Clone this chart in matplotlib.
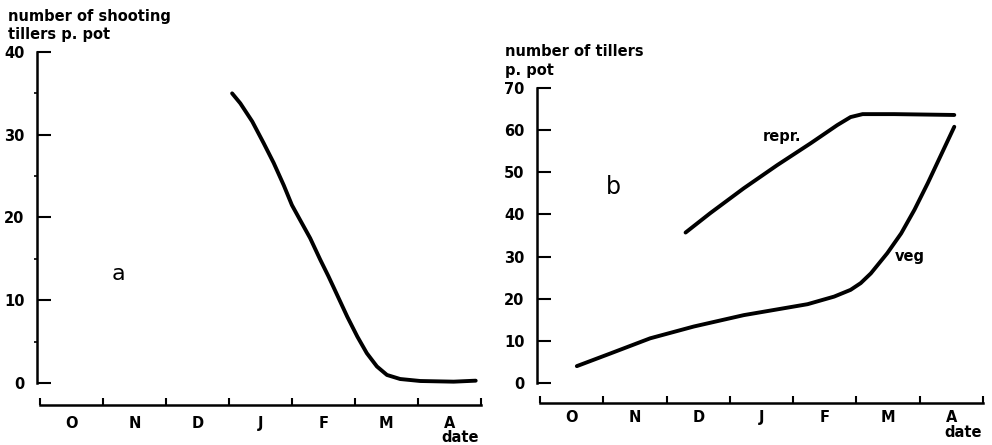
import matplotlib.pyplot as plt
from matplotlib.ticker import FixedLocator, NullFormatter

plt.rcParams['font.family'] = ['DejaVu Sans']

# months, October to April; x is months after 1 October
months = ['O', 'N', 'D', 'J', 'F', 'M', 'A']

# panel a: shooting tillers per pot
shoot_x = [3.05, 3.18, 3.37, 3.55, 3.71, 3.87, 4.0, 4.13, 4.29, 4.45, 4.58, 4.66,
           4.88, 5.04, 5.19, 5.35, 5.51, 5.72, 6.04, 6.57, 6.92]
shoot_y = [35.0, 33.8, 31.6, 29.0, 26.6, 23.9, 21.5, 19.7, 17.5, 14.9, 12.9, 11.6,
           8.0, 5.6, 3.6, 2.0, 0.97, 0.48, 0.24, 0.16, 0.28]

# panel b: reproductive and vegetative tillers per pot
repr_x = [2.3, 2.69, 3.22, 3.75, 4.28, 4.7, 4.91, 5.1, 5.6, 6.55]
repr_y = [35.7, 40.3, 46.2, 51.7, 56.9, 61.2, 63.1, 63.8, 63.8, 63.6]
veg_x = [0.58, 1.11, 1.74, 2.43, 3.22, 4.23, 4.65, 4.91, 5.07, 5.23, 5.49, 5.71,
         5.92, 6.13, 6.34, 6.55]
veg_y = [4.0, 7.0, 10.6, 13.4, 16.1, 18.7, 20.5, 22.1, 23.7, 26.0, 30.8, 35.5,
         41.1, 47.4, 54.1, 60.8]

fig = plt.figure(figsize=(9.92, 4.45), dpi=100)
W, H = 992.0, 445.0
FS = 10.5


def setup(ax, ymax, ymin, major, minor, xpad):
    ax.set_xlim(-0.05, 7.02)
    ax.set_ylim(ymin, ymax)
    for s in ['top', 'right']:
        ax.spines[s].set_visible(False)
    ax.spines['left'].set_bounds(0, ymax)
    ax.spines['left'].set_linewidth(1.8)
    ax.spines['bottom'].set_bounds(0, 7)
    ax.spines['bottom'].set_linewidth(1.8)
    ax.set_yticks(major)
    ax.yaxis.set_minor_locator(FixedLocator(minor))
    ax.tick_params(axis='y', which='major', direction='in', length=10, width=1.5,
                   labelsize=FS, pad=9)
    ax.tick_params(axis='y', which='minor', direction='out', length=2, width=1.2)
    ax.set_xticks(range(8))
    ax.xaxis.set_major_formatter(NullFormatter())
    ax.set_xticks([m + 0.5 for m in range(7)], minor=True)
    ax.set_xticklabels(months, minor=True)
    ax.tick_params(axis='x', which='major', direction='in', length=5, width=1.5)
    ax.tick_params(axis='x', which='minor', length=0, labelsize=FS, pad=xpad)
    for lab in ax.get_xticklabels(minor=True) + ax.get_yticklabels():
        lab.set_fontweight('bold')
    ax.set_facecolor('none')


# panel a
ax1 = fig.add_axes([37 / W, 1 - 405 / H, 445 / W, 353 / H])
setup(ax1, 40, -2.66, [0, 10, 20, 30, 40], [5, 15, 25, 35], 8)
ax1.plot(shoot_x, shoot_y, color='black', lw=2.8, solid_capstyle='round')
ax1.text(1.24, 13.2, 'a', fontsize=16, ha='center', va='center')
ax1.text(6.68, -6.6, 'date', fontsize=FS, fontweight='bold', ha='center', va='center')
fig.text(8 / W, 1 - 16 / H, 'number of shooting', fontsize=FS, fontweight='bold',
         va='center')
fig.text(8 / W, 1 - 34 / H, 'tillers p. pot', fontsize=FS, fontweight='bold',
         va='center')

# panel b
ax2 = fig.add_axes([537 / W, 1 - 403 / H, 447 / W, 315 / H])
setup(ax2, 70, -4.75, [0, 10, 20, 30, 40, 50, 60, 70], [], 5)
ax2.plot(repr_x, repr_y, color='black', lw=2.8, solid_capstyle='round')
ax2.plot(veg_x, veg_y, color='black', lw=2.8, solid_capstyle='round')
ax2.text(3.83, 58.4, 'repr.', fontsize=FS, fontweight='bold', ha='center', va='center')
ax2.text(5.84, 30.0, 'veg', fontsize=FS, fontweight='bold', ha='center', va='center')
ax2.text(1.16, 46.6, 'b', fontsize=17, ha='center', va='center')
ax2.text(6.69, -11.8, 'date', fontsize=FS, fontweight='bold', ha='center', va='center')
fig.text(505 / W, 1 - 52 / H, 'number of tillers', fontsize=FS, fontweight='bold',
         va='center')
fig.text(505 / W, 1 - 70 / H, 'p. pot', fontsize=FS, fontweight='bold', va='center')

fig.savefig('out.png', dpi=100)
